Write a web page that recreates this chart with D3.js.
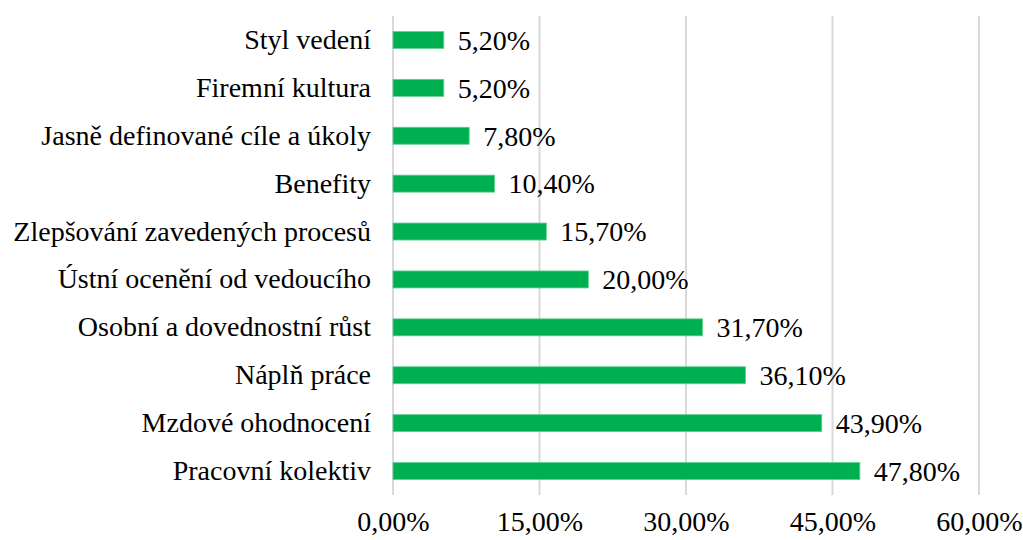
<!DOCTYPE html>
<html>
<head>
<meta charset="utf-8">
<script src="https://cdn.jsdelivr.net/npm/d3@7"></script>
<style>
  body { margin: 0; background: #fff; }
  svg text { font-family: "Liberation Serif", "Times New Roman", serif; fill: #000; }
</style>
</head>
<body>
<script>
var categories = ["Styl vedení", "Firemní kultura", "Jasně definované cíle a úkoly", "Benefity",
  "Zlepšování zavedených procesů", "Ústní ocenění od vedoucího", "Osobní a dovednostní růst",
  "Náplň práce", "Mzdové ohodnocení", "Pracovní kolektiv"];
var values = [5.2, 5.2, 7.8, 10.4, 15.7, 20.0, 31.7, 36.1, 43.9, 47.8];
var ticks = [0, 15, 30, 45, 60];

var width = 1023, height = 540;
var svg = d3.select("body").append("svg").attr("width", width).attr("height", height);

var x = d3.scaleLinear().domain([0, 60]).range([393, 979]); // 0 - 60 %
var y = d3.scaleBand().domain(categories).range([16, 495])
  .paddingInner(0.645).paddingOuter(0.3225);

var fmt = function(d) { return d.toFixed(2).replace(".", ",") + "%"; };

// gridlines
svg.append("g").selectAll("line").data(ticks).enter().append("line")
  .attr("x1", function(d) { return x(d); }).attr("x2", function(d) { return x(d); })
  .attr("y1", 16).attr("y2", 495)
  .attr("stroke", "#d9d9d9").attr("stroke-width", 2);

// x axis labels
var xAxis = d3.axisBottom(x).tickValues(ticks).tickFormat(fmt).tickSize(0).tickPadding(16);
var gx = svg.append("g").attr("transform", "translate(0,495)").call(xAxis)
  .attr("font-family", null).attr("font-size", null);
gx.select(".domain").remove();
gx.selectAll("text").style("font-size", "28px");

// y axis labels
var yAxis = d3.axisLeft(y).tickSize(0).tickPadding(22);
var gy = svg.append("g").attr("transform", "translate(393,0)").call(yAxis)
  .attr("font-family", null).attr("font-size", null);
gy.select(".domain").remove();
gy.selectAll("text").style("font-size", "28px");

// bars
svg.append("g").selectAll("rect").data(values).enter().append("rect")
  .attr("x", x(0))
  .attr("y", function(d, i) { return y(categories[i]); })
  .attr("width", function(d) { return x(d) - x(0); })
  .attr("height", y.bandwidth())
  .attr("fill", "#00b050")
  .attr("stroke", "#5fd08f").attr("stroke-width", 0.8);

// value labels
svg.append("g").selectAll("text").data(values).enter().append("text")
  .attr("x", function(d) { return x(d) + 14; })
  .attr("y", function(d, i) { return y(categories[i]) + y.bandwidth() / 2; })
  .attr("dy", "0.35em")
  .style("font-size", "28px")
  .text(fmt);
</script>
</body>
</html>
